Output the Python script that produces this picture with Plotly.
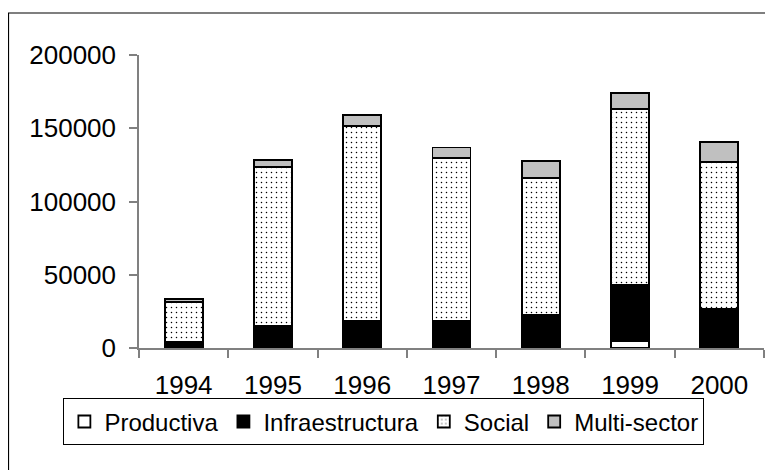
import plotly.graph_objects as go

years = ["1994", "1995", "1996", "1997", "1998", "1999", "2000"]
productiva = [300, 300, 1500, 400, 1500, 4500, 400]
infraestructura = [4000, 14500, 17200, 18400, 21400, 38600, 26400]
social = [27000, 109000, 132600, 110800, 93000, 119900, 100100]
multisector = [2000, 4500, 8000, 7200, 12000, 11100, 13600]
y_ticks = [0, 50000, 100000, 150000, 200000]

FONT = "Liberation Sans, Arial, sans-serif"
FS = 26
line = dict(color="black", width=1.8)

fig = go.Figure()
fig.add_trace(go.Bar(name="Productiva", x=years, y=productiva,
                     marker=dict(color="white", line=line)))
fig.add_trace(go.Bar(name="Infraestructura", x=years, y=infraestructura,
                     marker=dict(color="black", line=line)))
fig.add_trace(go.Bar(name="Social", x=years, y=social,
                     marker=dict(color="white", line=line,
                                 pattern=dict(shape=".", fgcolor="black", bgcolor="white",
                                              size=5, solidity=0.07, fillmode="replace"))))
fig.add_trace(go.Bar(name="Multi-sector", x=years, y=multisector,
                     marker=dict(color="#C0C0C0", line=line)))

fig.update_layout(
    width=765, height=462,
    barmode="stack", bargap=0.575,
    paper_bgcolor="white", plot_bgcolor="white",
    margin=dict(l=131, r=9, t=47, b=122),
    font=dict(family=FONT, size=FS, color="black"),
    showlegend=True,
    legend=dict(orientation="h", x=-0.121, xanchor="left", y=-0.172, yanchor="top",
                bordercolor="black", borderwidth=1, bgcolor="white",
                font=dict(size=24), traceorder="normal", itemwidth=30,
                tracegroupgap=0),
    xaxis=dict(showline=True, linecolor="#808080", linewidth=1.5,
               ticks="outside", ticklen=8, tickcolor="#808080", tickwidth=1.5,
               tickson="boundaries", showgrid=False, zeroline=False,
               ticklabelstandoff=13, tickfont=dict(size=FS)),
    yaxis=dict(range=[0, 200000], tickvals=y_ticks, ticktext=[str(v) for v in y_ticks],
               showline=True, linecolor="#808080", linewidth=1.5,
               ticks="outside", ticklen=8, tickcolor="#808080", tickwidth=1.5,
               showgrid=False, zeroline=False, ticklabelstandoff=8,
               tickfont=dict(size=FS)),
    shapes=[dict(type="rect", xref="paper", yref="paper",
                 x0=-0.2088, x1=1.0128, y0=-0.5, y1=1.1433,
                 line=dict(color="black", width=1.2), fillcolor="rgba(0,0,0,0)", layer="below")],
)

fig.write_html("out.html")
